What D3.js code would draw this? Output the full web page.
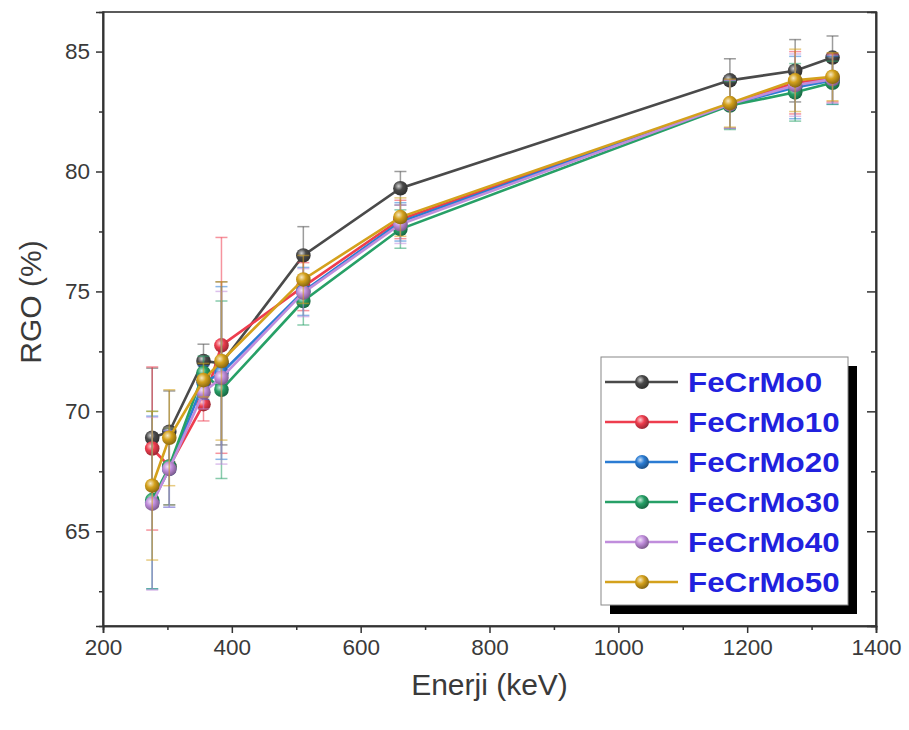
<!DOCTYPE html>
<html>
<head>
<meta charset="utf-8">
<script src="https://cdn.jsdelivr.net/npm/d3@7"></script>
<style>
  body { margin: 0; background: #fff; }
  svg { display: block; font-family: Arial, 'Liberation Sans', sans-serif; }
</style>
</head>
<body>
<div id="chart"></div>
<script>
// gamma energies (keV)
const energies = [276.4, 302.9, 356.0, 383.9, 511.0, 661.7, 1173.2, 1274.5, 1332.5]

const seriesNames = ['FeCrMo0', 'FeCrMo10', 'FeCrMo20', 'FeCrMo30', 'FeCrMo40', 'FeCrMo50']

const rgo0 = [68.9, 69.15, 72.1, 72.0, 76.5, 79.3, 83.8, 84.2, 84.75]
const rgo10 = [68.45, 67.7, 70.3, 72.75, 75.2, 78.0, 82.8, 83.7, 83.9]
const rgo20 = [66.2, 67.6, 71.2, 71.6, 75.0, 77.9, 82.8, 83.5, 83.8]
const rgo30 = [66.3, 67.7, 71.6, 70.9, 74.6, 77.6, 82.75, 83.3, 83.7]
const rgo40 = [66.15, 67.6, 70.8, 71.4, 74.95, 77.8, 82.8, 83.6, 83.85]
const rgo50 = [66.9, 68.9, 71.3, 72.1, 75.5, 78.1, 82.85, 83.8, 83.95]

const err0 = [2.9, 1.7, 0.7, 3.4, 1.2, 0.7, 0.9, 1.3, 0.9]
const err10 = [3.4, 1.6, 0.7, 4.5, 1.0, 0.8, 1.0, 1.3, 1.0]
const err20 = [3.6, 1.6, 0.7, 3.6, 1.0, 0.8, 1.0, 1.3, 1.0]
const err30 = [3.7, 1.6, 0.7, 3.7, 1.0, 0.8, 1.0, 1.2, 0.9]
const err40 = [3.6, 1.6, 0.7, 3.6, 1.0, 0.8, 1.0, 1.3, 1.0]
const err50 = [3.1, 2.0, 0.7, 3.3, 1.0, 0.8, 1.0, 1.3, 1.0]

const xTicks = [200, 400, 600, 800, 1000, 1200, 1400]
const xMinorTicks = [300, 500, 700, 900, 1100, 1300]
const yTicks = [65, 70, 75, 80, 85]
const yMinorTicks = [62.5, 67.5, 72.5, 77.5, 82.5]

const values = [rgo0, rgo10, rgo20, rgo30, rgo40, rgo50]
const errors = [err0, err10, err20, err30, err40, err50]
const colors = ['#4a4a4a', '#ee3d4e', '#2b7cd3', '#27a067', '#c08ddc', '#d4a11c']

const width = 909
const height = 730
const plot = { left: 103, right: 876, top: 12, bottom: 626 }

const series = seriesNames.map((name, i) => ({
  name,
  color: colors[i],
  points: energies.map((e, j) => ({ e, v: values[i][j], err: errors[i][j] }))
}))

const x = d3.scaleLinear().domain([200, 1400]).range([plot.left, plot.right])
const y = d3.scaleLinear().domain([61.05, 86.65]).range([plot.bottom, plot.top])

const svg = d3.select('#chart').append('svg')
  .attr('width', width)
  .attr('height', height)

// sphere look for markers
const defs = svg.append('defs')
series.forEach((s, i) => {
  const c = d3.color(s.color)
  const grad = defs.append('radialGradient')
    .attr('id', 'ball' + i)
    .attr('cx', '38%').attr('cy', '35%').attr('r', '65%')
  grad.append('stop').attr('offset', '0%').attr('stop-color', d3.interpolateRgb(s.color, '#fff')(0.75))
  grad.append('stop').attr('offset', '45%').attr('stop-color', s.color)
  grad.append('stop').attr('offset', '100%').attr('stop-color', c.darker(1.2))
})

// frame
svg.append('rect')
  .attr('x', plot.left).attr('y', plot.top)
  .attr('width', plot.right - plot.left).attr('height', plot.bottom - plot.top)
  .attr('fill', 'none').attr('stroke', '#333').attr('stroke-width', 1.6)

// axes
const axisX = d3.axisBottom(x).tickValues(xTicks).tickSize(7).tickPadding(6).tickFormat(d3.format('d'))
const gx = svg.append('g').attr('transform', 'translate(0,' + plot.bottom + ')').call(axisX)
gx.append('g').call(d3.axisBottom(x).tickValues(xMinorTicks).tickSize(4).tickFormat(''))

const axisY = d3.axisLeft(y).tickValues(yTicks).tickSize(7).tickPadding(6)
const gy = svg.append('g').attr('transform', 'translate(' + plot.left + ',0)').call(axisY)
gy.append('g').call(d3.axisLeft(y).tickValues(yMinorTicks).tickSize(4).tickFormat(''))

const gr = svg.append('g').attr('transform', 'translate(' + plot.right + ',0)')
  .call(d3.axisLeft(y).tickValues(yTicks).tickSize(9).tickFormat(''))
gr.append('g').call(d3.axisLeft(y).tickValues(yMinorTicks).tickSize(5).tickFormat(''))

svg.selectAll('.domain').attr('stroke', '#333').attr('stroke-width', 1.6)
svg.selectAll('.tick line').attr('stroke', '#333').attr('stroke-width', 1.5)
svg.selectAll('.tick text')
  .attr('fill', '#3a3a3a')
  .attr('font-size', 22.5)
  .attr('font-family', "Arial, 'Liberation Sans', sans-serif")

// axis titles
svg.append('text')
  .attr('x', (plot.left + plot.right) / 2).attr('y', 695)
  .attr('text-anchor', 'middle')
  .attr('font-size', 30).attr('fill', '#3a3a3a')
  .text('Enerji (keV)')

svg.append('text')
  .attr('transform', 'translate(41,' + ((plot.top + plot.bottom) / 2 - 17) + ') rotate(-90)')
  .attr('text-anchor', 'middle')
  .attr('font-size', 30).attr('fill', '#3a3a3a')
  .text('RGO (%)')

// data
const line = d3.line().x(d => x(d.e)).y(d => y(d.v))
const gData = svg.append('g')

series.forEach((s, i) => {
  const g = gData.append('g')
  const eb = g.append('g')
    .attr('stroke', s.color).attr('stroke-opacity', 0.55).attr('stroke-width', 1.5)
  s.points.forEach(p => {
    const cx = x(p.e)
    eb.append('line').attr('x1', cx).attr('x2', cx).attr('y1', y(p.v - p.err)).attr('y2', y(p.v + p.err))
    eb.append('line').attr('x1', cx - 6).attr('x2', cx + 6).attr('y1', y(p.v + p.err)).attr('y2', y(p.v + p.err))
    eb.append('line').attr('x1', cx - 6).attr('x2', cx + 6).attr('y1', y(p.v - p.err)).attr('y2', y(p.v - p.err))
  })
  g.append('path')
    .attr('d', line(s.points))
    .attr('fill', 'none').attr('stroke', s.color).attr('stroke-width', 2.6)
  g.selectAll('circle')
    .data(s.points)
    .enter()
    .append('circle')
    .attr('cx', d => x(d.e))
    .attr('cy', d => y(d.v))
    .attr('r', 7.3)
    .attr('fill', 'url(#ball' + i + ')')
})

// legend
const lg = { x: 601, y: 357, w: 247, h: 248, shadow: 9 }
const legend = svg.append('g')
legend.append('rect')
  .attr('x', lg.x + lg.shadow).attr('y', lg.y + lg.shadow)
  .attr('width', lg.w).attr('height', lg.h)
  .attr('fill', '#000')
legend.append('rect')
  .attr('x', lg.x).attr('y', lg.y)
  .attr('width', lg.w).attr('height', lg.h)
  .attr('fill', '#fff').attr('stroke', '#888').attr('stroke-width', 1)

const rows = legend.selectAll('.row')
  .data(series)
  .enter()
  .append('g')
  .attr('class', 'row')
  .attr('transform', (d, i) => 'translate(' + lg.x + ',' + (lg.y + 25 + i * 40) + ')')

rows.append('line')
  .attr('x1', 4).attr('x2', 77)
  .attr('stroke', d => d.color).attr('stroke-width', 2.5)
rows.append('circle')
  .attr('cx', 41).attr('r', 7)
  .attr('fill', (d, i) => 'url(#ball' + i + ')')
rows.append('text')
  .attr('transform', 'translate(87,10) scale(1.12,1)')
  .attr('font-size', 28).attr('font-weight', 'bold')
  .attr('fill', '#2121de')
  .text(d => d.name)
</script>
</body>
</html>
